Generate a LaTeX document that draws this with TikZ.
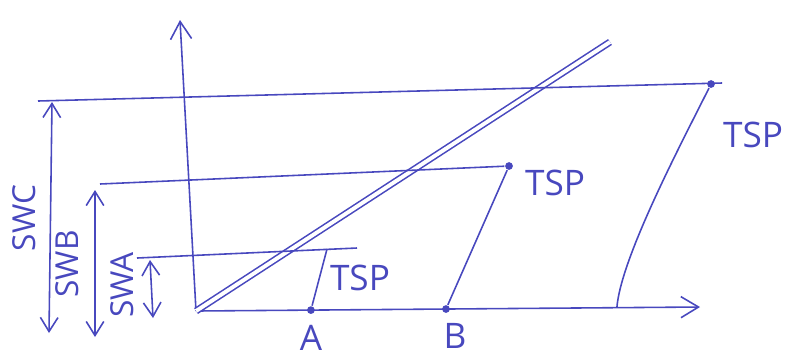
\documentclass[tikz,border=0pt]{standalone}
\usepackage{fontspec}
\setsansfont{Open Sans}
\usepackage{xcolor}
\usetikzlibrary{calc, positioning, arrows.meta}

\definecolor{ink}{RGB}{72,72,190}

\begin{document}
\begin{tikzpicture}[
    x=0.01cm, y=-0.01cm,
    inkline/.style={draw=ink, line width=0.45pt},
    axis/.style={inkline, -{Straight Barb[length=5pt, width=6pt]}},
    span/.style={inkline, {Straight Barb[length=4pt, width=5pt]}-{Straight Barb[length=4pt, width=5pt]}},
    lbl/.style={text=ink, font=\sffamily, inner sep=1pt},
    swlbl/.style={lbl, rotate=90, font=\sffamily\small},
    dot/.style={circle, fill=ink, inner sep=0pt, minimum size=2.2pt}
]
\useasboundingbox (0,0) rectangle (789,354);

% axes
\coordinate (O) at (196,311);
\coordinate (ytop) at (180,20);
\coordinate (xend) at (700,307);
\draw[axis] (O) -- (ytop);
\draw[axis] (O) -- (xend);

% double diagonal
\coordinate (diag) at (610,42);
\draw[inkline, double=white, double distance=1.1pt] (O) -- (diag);

% points on the x axis
\node[dot] (A) at ($(O)!0.228!(xend)$) {};
\node[dot] (B) at ($(O)!0.496!(xend)$) {};
\coordinate (C) at ($(O)!0.835!(xend)$);

% tops of the TSP lines
\coordinate (TA) at (327,249);
\node[dot] (TB) at (509,166) {};
\node[dot] (TC) at (711,84) {};

% TSP lines
\draw[inkline] (A) -- (TA);
\draw[inkline] (B) -- (TB);
\draw[inkline] (C) .. controls +(4,-50) and +(-30,60) .. (TC);

% level lines
\coordinate (LA) at (137,258);
\coordinate (LAend) at (357,248);
\coordinate (LB) at (100,184);
\coordinate (LC) at (38,101);
\coordinate (LCend) at (722,83);
\draw[inkline] (LA) -- (LAend);
\draw[inkline] (LB) -- (TB);
\draw[inkline] (LC) -- (LCend);

% spans on the left
\coordinate (SCtop) at (52,102);
\coordinate (SCbot) at (49,333);
\coordinate (SBtop) at (95,190);
\coordinate (SBbot) at (95,337);
\coordinate (SAtop) at (150,260);
\coordinate (SAbot) at (153,318);
\draw[span] (SCtop) -- (SCbot);
\draw[span] (SBtop) -- (SBbot);
\draw[span] (SAtop) -- (SAbot);

% labels
\node[swlbl] (swc) at (24,218) {SWC};
\node[swlbl] (swb) at (67,264) {SWB};
\node[swlbl] (swa) at (122,285) {SWA};
\node[lbl] (tspa) at (360,278) {TSP};
\node[lbl] (tspb) at (555,183) {TSP};
\node[lbl] (tspc) at (753,135) {TSP};
\node[lbl] (la) at (311,338) {A};
\node[lbl] (lb) at (455,336) {B};

\end{tikzpicture}
\end{document}
